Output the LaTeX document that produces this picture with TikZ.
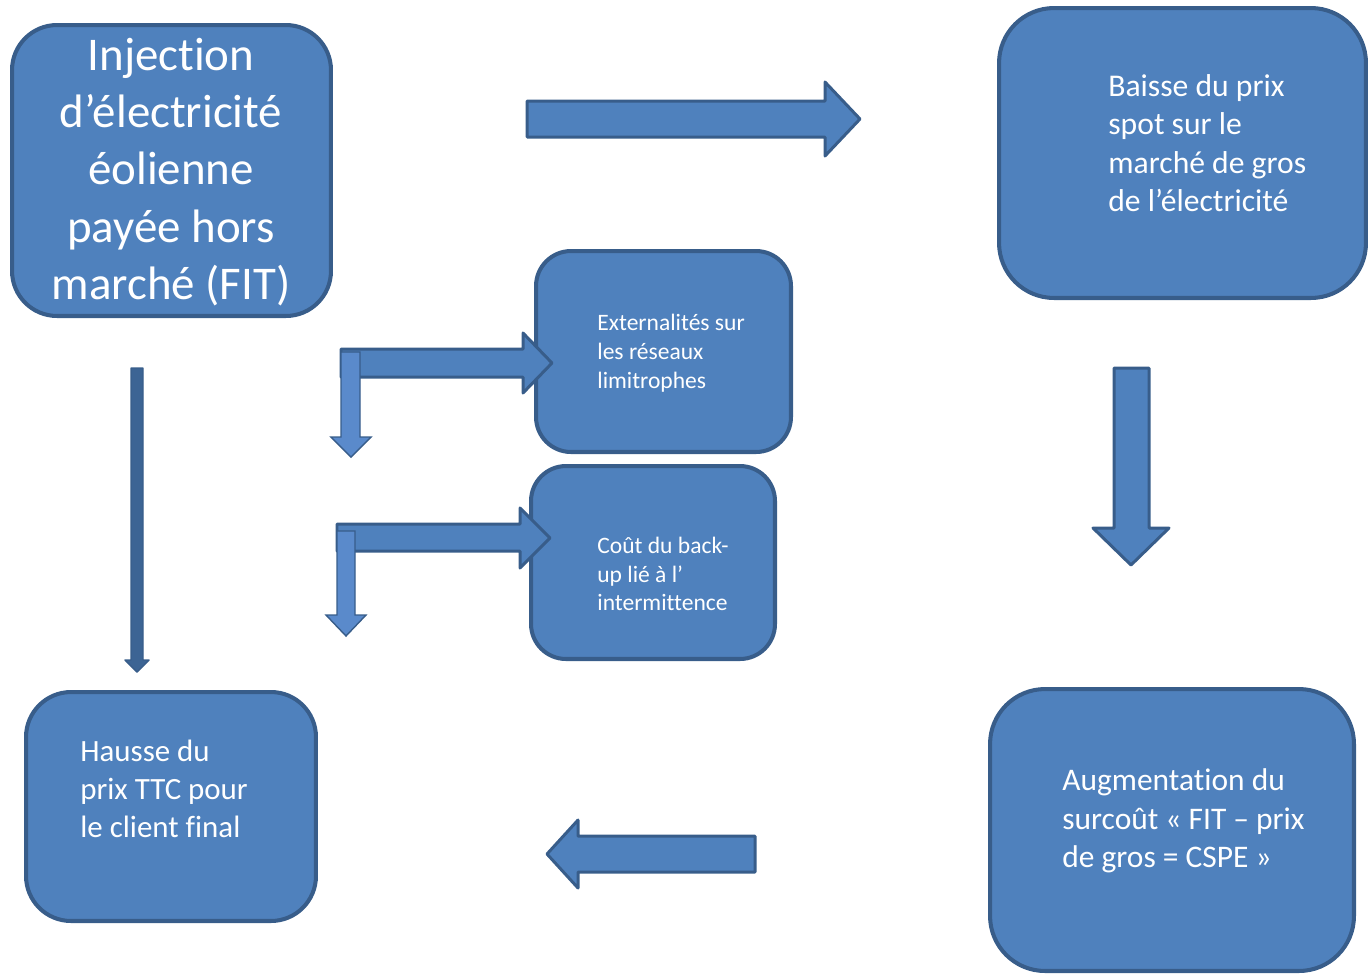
\documentclass[tikz,border=0pt]{standalone}
\usepackage{fontspec}
\setmainfont[Ligatures={NoCommon,NoRare}]{Carlito}
\usetikzlibrary{positioning}
\definecolor{boxblue}{HTML}{4F81BD}
\definecolor{boxline}{HTML}{385D8A}
\definecolor{lightblue}{HTML}{5A8ACB}
\definecolor{darkblue}{HTML}{3C6494}
\tikzset{
  box/.style={draw=boxline, fill=boxblue, line width=2.3pt, rectangle, rounded corners=#1},
  box/.default=0.9cm,
  txt/.style={text=white, align=left, inner sep=0pt, anchor=west},
  blockarrow/.style={draw=boxline, fill=boxblue, line width=1.7pt, line join=round},
  smallarrow/.style={draw=boxline, fill=lightblue, line width=0.8pt},
}
\begin{document}
\begin{tikzpicture}[x=0.02cm, y=-0.02cm]
    \useasboundingbox (0,0) rectangle (1368,975);
    \begin{scope}
      \node[box, minimum width=6.38cm, minimum height=5.82cm] (inj) at (171.5,170.5) {};
      \node[box=1.1cm, minimum width=7.34cm, minimum height=5.8cm] (baisse) at (1182.5,153) {};
      \node[box=0.7cm, minimum width=5.1cm, minimum height=4.02cm] (ext) at (663.5,351.5) {};
      \node[box=0.7cm, minimum width=4.88cm, minimum height=3.86cm] (cout) at (653,562.5) {};
      \node[box, minimum width=5.8cm, minimum height=4.58cm] (hausse) at (171,806.5) {};
      \node[box=1.1cm, minimum width=7.28cm, minimum height=5.64cm] (augm) at (1172,830) {};

      \node[text=white, align=center, inner sep=0pt, font=\fontsize{26.7}{32.6}\selectfont] (injtxt) at (171,172)
        {Injection\\d’électricité\\éolienne\\payée hors\\marché (FIT)};
      \node[txt, font=\fontsize{18}{21.9}\selectfont] (baissetxt) at (1108,143)
        {Baisse du prix\\spot sur le\\marché de gros\\de l’électricité};
      \node[txt, font=\fontsize{13.4}{16.4}\selectfont] (exttxt) at (597,353)
        {Externalités sur\\les réseaux\\limitrophes};
      \node[txt, font=\fontsize{13.4}{16.4}\selectfont] (couttxt) at (597,574)
        {Coût du back-\\up lié à l’\\intermittence};
      \node[txt, font=\fontsize{17.6}{21.5}\selectfont] (haussetxt) at (80,789)
        {Hausse du\\prix TTC pour\\le client final};
      \node[txt, font=\fontsize{17.9}{21.8}\selectfont] (augmtxt) at (1062,821)
        {Augmentation du\\surcoût « FIT – prix\\de gros = CSPE »};
    \end{scope}
    \begin{scope}
      \draw[blockarrow] (527,101) -- (825,101) -- (825,82) -- (860,119) -- (825,156) -- (825,137) -- (527,137) -- cycle;
      \draw[blockarrow] (341,349) -- (523,349) -- (523,333) -- (552,363) -- (523,393) -- (523,377) -- (341,377) -- cycle;
      \draw[smallarrow] (341,352) -- (360,352) -- (360,437) -- (371,437) -- (351,457) -- (331,437) -- (341,437) -- cycle;
      \draw[blockarrow] (337,524) -- (520,524) -- (520,508) -- (550,538) -- (520,568) -- (520,551) -- (337,551) -- cycle;
      \draw[smallarrow] (337,531) -- (355,531) -- (355,615) -- (366,615) -- (346,636) -- (326,615) -- (337,615) -- cycle;
      \draw[blockarrow, fill=darkblue, line width=0.8pt] (131,368) -- (143,368) -- (143,660) -- (149,660) -- (137,672) -- (125,660) -- (131,660) -- cycle;
      \draw[blockarrow] (1114,368) -- (1149,368) -- (1149,528) -- (1169,528) -- (1131,565) -- (1093,528) -- (1114,528) -- cycle;
      \draw[blockarrow] (755,836) -- (578,836) -- (578,820) -- (547,854) -- (578,888) -- (578,872) -- (755,872) -- cycle;
    \end{scope}
\end{tikzpicture}
\end{document}
